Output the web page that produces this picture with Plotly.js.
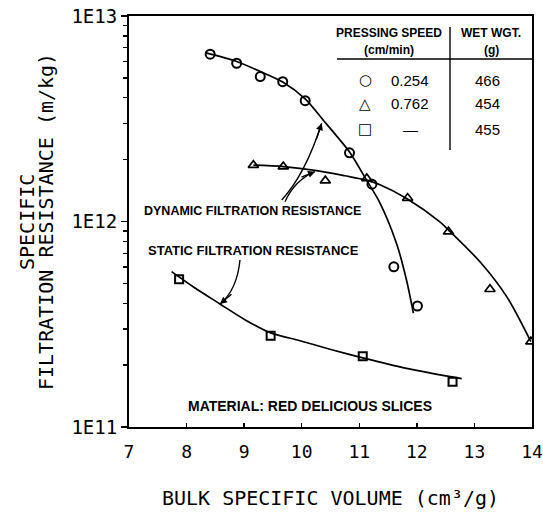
<!DOCTYPE html>
<html><head><meta charset="utf-8">
<script src="https://cdn.plot.ly/plotly-3.0.1.min.js"></script>
<style>html,body{margin:0;padding:0;background:#fff}#chart{width:543px;height:515px}</style>
</head><body><div id="chart"></div>
<script>
// Data points
const circleX = [8.41, 8.87, 9.28, 9.67, 10.06, 10.83, 11.22, 11.60, 12.01];
const circleY = [6.52e12, 5.89e12, 5.07e12, 4.79e12, 3.87e12, 2.16e12, 1.52e12, 6.02e11, 3.88e11];
const triX = [9.16, 9.68, 10.41, 11.13, 11.84, 12.55, 13.27, 13.98];
const triY = [1.88e12, 1.85e12, 1.58e12, 1.62e12, 1.30e12, 8.92e11, 4.68e11, 2.60e11];
const sqX = [7.87, 9.46, 11.06, 12.62];
const sqY = [5.24e11, 2.78e11, 2.21e11, 1.66e11];
// Fitted curves
const circleFitX = [8.32, 8.87, 9.28, 9.67, 10.06, 10.38, 10.64, 10.84, 11.12, 11.36, 11.65, 11.82, 11.94];
const circleFitY = [6.63e12, 6.01e12, 5.37e12, 4.77e12, 3.95e12, 3.10e12, 2.54e12, 2.16e12, 1.60e12, 1.23e12, 7.77e11, 5.19e11, 3.58e11];
const triFitX = [9.16, 9.68, 10.26, 10.75, 11.12, 11.36, 11.83, 12.40, 12.55, 13.10, 13.56, 13.98];
const triFitY = [1.88e12, 1.85e12, 1.77e12, 1.67e12, 1.59e12, 1.51e12, 1.29e12, 9.95e11, 9.09e11, 6.35e11, 4.31e11, 2.60e11];
const sqFitX = [7.74, 8.12, 8.58, 9.02, 9.46, 9.97, 10.49, 11.06, 11.82, 12.78];
const sqFitY = [5.70e11, 4.80e11, 3.97e11, 3.32e11, 2.87e11, 2.63e11, 2.39e11, 2.17e11, 1.93e11, 1.72e11];
// Table text
const speeds = ['0.254', '0.762', '—'];
const weights = ['466', '454', '455'];
const symbols = ['○', '△', '□'];
const yTickVals = [1e11, 1e12, 1e13];
const yTickText = ['1E11', '1E12', '1E13'];
const xTickVals = [7, 8, 9, 10, 11, 12, 13, 14];

const lineStyle = {color: '#000', width: 1.7, shape: 'spline', smoothing: 0.8};
const traces = [
  {x: circleFitX, y: circleFitY, mode: 'lines', line: lineStyle, hoverinfo: 'skip'},
  {x: triFitX, y: triFitY, mode: 'lines', line: lineStyle, hoverinfo: 'skip'},
  {x: sqFitX, y: sqFitY, mode: 'lines', line: lineStyle, hoverinfo: 'skip'},
  {x: circleX, y: circleY, mode: 'markers', marker: {symbol: 'circle-open', size: 9, color: '#000', line: {width: 2}}},
  {x: triX, y: triY, mode: 'markers', marker: {symbol: 'triangle-up-open', size: 9, color: '#000', line: {width: 1.7}}},
  {x: sqX, y: sqY, mode: 'markers', marker: {symbol: 'square-open', size: 8, color: '#000', line: {width: 2}}}
];

const tf = {family: 'Liberation Sans, Arial, sans-serif', size: 12, color: '#000', weight: 'bold'};
const px = v => (v - 129) / 403;
const py = v => (427 - v) / 411;
const ann = [
  {x: px(389), y: py(33), text: 'PRESSING SPEED'},
  {x: px(389), y: py(50), text: '(cm/min)'},
  {x: px(491), y: py(33), text: 'WET WGT.'},
  {x: px(491), y: py(50), text: '(g)'},
  {x: px(252), y: py(211), text: 'DYNAMIC FILTRATION RESISTANCE', size: 12.5},
  {x: px(253), y: py(250), text: 'STATIC FILTRATION RESISTANCE', size: 13},
  {x: px(310), y: py(406), text: 'MATERIAL: RED DELICIOUS SLICES', size: 14}
].map(a => ({xref: 'paper', yref: 'paper', x: a.x, y: a.y, text: a.text, showarrow: false,
  xanchor: 'center', yanchor: 'middle', font: Object.assign({}, tf, a.size ? {size: a.size} : {})}));
const rowY = [80, 104, 129];
rowY.forEach((r, i) => {
  ann.push({xref: 'paper', yref: 'paper', x: px(365), y: py(r), text: symbols[i], showarrow: false,
    xanchor: 'center', yanchor: 'middle', font: {family: 'DejaVu Sans', size: 15, color: '#000', weight: 'bold'}});
  ann.push({xref: 'paper', yref: 'paper', x: px(410), y: py(r), text: speeds[i], showarrow: false,
    xanchor: 'center', yanchor: 'middle', font: {family: 'Liberation Sans, Arial', size: 15, color: '#000'}});
  ann.push({xref: 'paper', yref: 'paper', x: px(487), y: py(r), text: weights[i], showarrow: false,
    xanchor: 'center', yanchor: 'middle', font: {family: 'Liberation Sans, Arial', size: 15, color: '#000'}});
});
// Y axis title as two close lines
const titleFont = {family: 'DejaVu Sans Mono, monospace', size: 20, color: '#000'};
ann.push({xref: 'paper', yref: 'paper', x: 0, y: py(222), xshift: -102, textangle: -90, text: 'SPECIFIC',
  showarrow: false, xanchor: 'center', yanchor: 'middle', font: titleFont});
ann.push({xref: 'paper', yref: 'paper', x: 0, y: py(222), xshift: -83, textangle: -90, text: 'FILTRATION RESISTANCE (m/kg)',
  showarrow: false, xanchor: 'center', yanchor: 'middle', font: titleFont});
// arrowheads
[[321.7, 123.3, -6, 18], [315, 171.7, -15, 6], [220, 304, 13, -11]].forEach(a => {
  ann.push({xref: 'paper', yref: 'paper', x: px(a[0]), y: py(a[1]), ax: a[2], ay: a[3], text: '',
    showarrow: true, arrowhead: 2, arrowsize: 1, arrowwidth: 1.4, arrowcolor: '#000'});
});

const P = (x, y) => px(x).toFixed(4) + ',' + py(y).toFixed(4);
const shapes = [
  {type: 'line', xref: 'paper', yref: 'paper', x0: px(337), x1: 1, y0: py(59), y1: py(59), line: {color: '#000', width: 1.4}},
  {type: 'line', xref: 'paper', yref: 'paper', x0: px(450), x1: px(450), y0: py(27), y1: py(150), line: {color: '#000', width: 1.4}},
  {type: 'path', xref: 'paper', yref: 'paper', path: 'M' + P(281.7, 200) + ' Q' + P(305, 175) + ' ' + P(321.7, 123.3), line: {color: '#000', width: 1.4}},
  {type: 'path', xref: 'paper', yref: 'paper', path: 'M' + P(285, 201.7) + ' Q' + P(295, 180) + ' ' + P(315, 171.7), line: {color: '#000', width: 1.4}},
  {type: 'path', xref: 'paper', yref: 'paper', path: 'M' + P(240, 260) + ' Q' + P(237, 290) + ' ' + P(220, 304), line: {color: '#000', width: 1.4}}
];

const layout = {
  width: 543, height: 515,
  margin: {l: 129, r: 11, t: 16, b: 88},
  paper_bgcolor: '#fff', plot_bgcolor: '#fff',
  showlegend: false,
  xaxis: {range: [7, 14], tickvals: xTickVals, ticks: 'inside', ticklen: 4, tickwidth: 1.5, tickcolor: '#000',
    showline: true, linecolor: '#000', linewidth: 2, mirror: true, showgrid: false, zeroline: false,
    tickfont: {family: 'DejaVu Sans Mono, monospace', size: 18, color: '#000'}, ticklabelstandoff: 7,
    title: {text: 'BULK SPECIFIC VOLUME (cm³/g)', font: titleFont, standoff: 30}},
  yaxis: {type: 'log', range: [11, 13], tickvals: yTickVals, ticktext: yTickText, ticks: 'outside', ticklen: 6, tickwidth: 1.5, tickcolor: '#000',
    minor: {ticks: 'outside', ticklen: 4, tickwidth: 1.3, tickcolor: '#000', dtick: 'D1', showgrid: false},
    showline: true, linecolor: '#000', linewidth: 2, mirror: true, showgrid: false, zeroline: false,
    tickfont: {family: 'DejaVu Sans Mono, monospace', size: 19, color: '#000'}},
  annotations: ann, shapes: shapes
};
Plotly.newPlot('chart', traces, layout, {staticPlot: true, displayModeBar: false});
</script></body></html>
